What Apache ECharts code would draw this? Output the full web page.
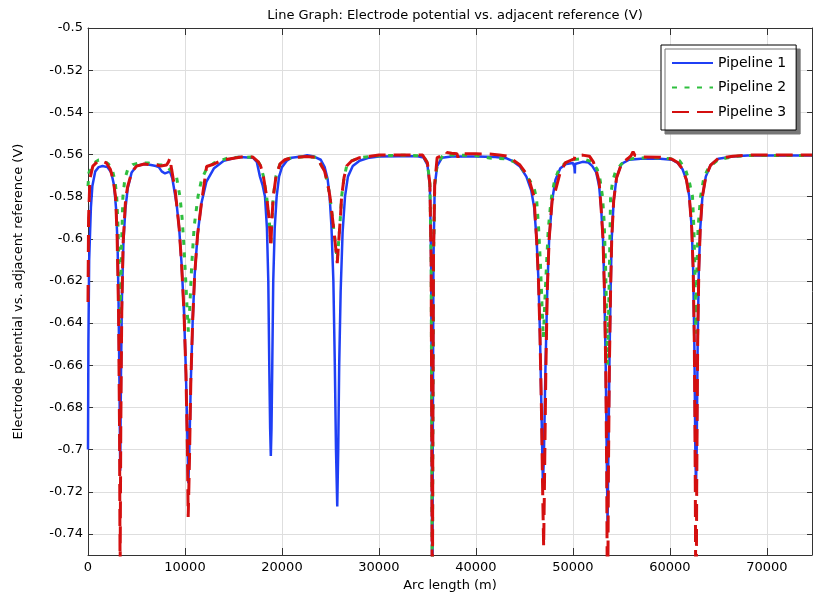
<!DOCTYPE html>
<html>
<head>
<meta charset="utf-8">
<script src="https://cdn.jsdelivr.net/npm/echarts@6/dist/echarts.min.js"></script>
<style>html,body{margin:0;padding:0;background:#fff;}#c{width:813px;height:597px;}</style>
</head>
<body>
<div id="c"></div>
<script>
// ---- data ----
const seriesNames = ['Pipeline 1', 'Pipeline 2', 'Pipeline 3'];
const xTicks = [0, 10000, 20000, 30000, 40000, 50000, 60000, 70000];
const yTicks = [-0.74, -0.72, -0.7, -0.68, -0.66, -0.64, -0.62, -0.6, -0.58, -0.56, -0.54, -0.52, -0.5];

const p1x = [0,40,120,300,450,750,1100,1500,2000,2400,2700,2900,3050,3150,3250,3320,3400,3500,3650,3850,4100,4500,5000,5800,6500,7000,7300,7600,7940,8200,8450,8700,8900,9150,9400,9650,9900,10100,10250,10350,10450,10600,10800,11000,11300,11700,12200,13000,14000,15500,17000,17400,17730,18000,18250,18450,18590,18690,18780,18850,18920,19000,19100,19250,19450,19700,20000,20500,21000,22000,22600,23300,24000,24400,24700,24900,25100,25300,25450,25570,25700,25800,25900,26050,26250,26500,26800,27300,28000,29000,30000,32000,34000,34600,35000,35250,35380,35450,35500,35550,35620,35750,36000,36500,37500,40000,42000,43160,43800,44540,45200,45700,46000,46250,46450,46600,46750,46900,47000,47150,47350,47550,47850,48200,48700,49300,50000,50150,50200,50220,51000,51600,52000,52400,52700,52900,53100,53250,53380,53480,53570,53660,53760,53880,54000,54200,54500,55000,55800,57000,59000,60200,60800,61300,61700,62000,62250,62400,62520,62620,62690,62760,62860,62980,63130,63350,63700,64200,65000,66500,68000,74650];
const p1y = [-0.700,-0.650,-0.610,-0.585,-0.575,-0.568,-0.566,-0.5655,-0.566,-0.5685,-0.575,-0.586,-0.603,-0.630,-0.672,-0.710,-0.665,-0.628,-0.602,-0.586,-0.576,-0.5685,-0.5655,-0.5645,-0.565,-0.5655,-0.566,-0.568,-0.569,-0.5685,-0.568,-0.5715,-0.577,-0.584,-0.595,-0.612,-0.635,-0.664,-0.695,-0.716,-0.700,-0.668,-0.638,-0.617,-0.598,-0.583,-0.573,-0.5665,-0.563,-0.5612,-0.5615,-0.5635,-0.5705,-0.5745,-0.580,-0.595,-0.620,-0.660,-0.690,-0.703,-0.690,-0.660,-0.620,-0.595,-0.580,-0.5705,-0.566,-0.563,-0.5615,-0.561,-0.5603,-0.561,-0.5625,-0.566,-0.5715,-0.579,-0.594,-0.620,-0.660,-0.700,-0.727,-0.700,-0.660,-0.625,-0.597,-0.580,-0.5705,-0.5655,-0.563,-0.5615,-0.561,-0.5608,-0.5608,-0.5615,-0.565,-0.575,-0.610,-0.700,-0.800,-0.700,-0.610,-0.575,-0.5655,-0.5615,-0.561,-0.561,-0.5612,-0.5618,-0.5632,-0.5657,-0.5705,-0.577,-0.585,-0.600,-0.620,-0.645,-0.680,-0.716,-0.705,-0.665,-0.625,-0.600,-0.582,-0.572,-0.5665,-0.5645,-0.564,-0.566,-0.569,-0.5645,-0.5635,-0.5638,-0.5655,-0.5685,-0.575,-0.585,-0.600,-0.625,-0.660,-0.700,-0.735,-0.700,-0.660,-0.625,-0.600,-0.582,-0.571,-0.5645,-0.5625,-0.562,-0.562,-0.5625,-0.564,-0.567,-0.572,-0.580,-0.595,-0.615,-0.650,-0.700,-0.718,-0.700,-0.650,-0.615,-0.595,-0.580,-0.5705,-0.565,-0.562,-0.561,-0.5605,-0.5605];

const p2x = [0,100,400,800,1100,1600,2100,2500,2800,2960,3100,3220,3300,3380,3480,3600,3800,4100,4600,5300,6200,7000,7600,8200,8600,9140,9480,9700,9900,10100,10250,10350,10500,10700,10950,11340,11700,12200,13000,14500,17000,17560,17800,18070,18420,18700,18850,18950,19100,19400,19800,20300,21000,22500,23500,23920,24400,24700,24950,25150,25400,25700,25900,26050,26150,26400,26670,27200,28000,30000,33000,34600,35000,35250,35380,35450,35500,35550,35620,35750,36000,36600,37500,40000,41400,43000,44000,44800,45400,45800,46050,46250,46450,46650,46800,46950,47100,47280,47450,47650,47800,48100,48600,49300,50000,51000,52000,52500,52800,53050,53220,53360,53470,53570,53680,53770,53880,54100,54400,55000,56000,58000,60200,61000,61600,62000,62330,62470,62580,62680,62780,62900,63160,63500,64000,65000,66500,68000,74650];
const p2y = [-0.575,-0.5685,-0.5665,-0.5635,-0.5626,-0.5628,-0.5645,-0.567,-0.573,-0.580,-0.595,-0.618,-0.640,-0.622,-0.600,-0.580,-0.5715,-0.567,-0.5648,-0.564,-0.564,-0.5648,-0.565,-0.566,-0.568,-0.571,-0.580,-0.590,-0.604,-0.622,-0.636,-0.644,-0.632,-0.612,-0.594,-0.580,-0.572,-0.567,-0.564,-0.5615,-0.5612,-0.5635,-0.5655,-0.570,-0.580,-0.592,-0.603,-0.592,-0.580,-0.570,-0.5645,-0.5625,-0.5615,-0.561,-0.5613,-0.564,-0.568,-0.5735,-0.580,-0.588,-0.598,-0.610,-0.598,-0.588,-0.580,-0.571,-0.5655,-0.563,-0.5615,-0.5606,-0.5603,-0.5608,-0.564,-0.574,-0.610,-0.700,-0.790,-0.700,-0.610,-0.574,-0.565,-0.5602,-0.5602,-0.5605,-0.5617,-0.562,-0.5635,-0.567,-0.5715,-0.574,-0.577,-0.581,-0.594,-0.612,-0.630,-0.647,-0.630,-0.612,-0.596,-0.586,-0.580,-0.5725,-0.5665,-0.5638,-0.5625,-0.562,-0.5635,-0.567,-0.572,-0.580,-0.592,-0.612,-0.635,-0.660,-0.635,-0.612,-0.580,-0.5725,-0.568,-0.5645,-0.562,-0.5615,-0.562,-0.563,-0.567,-0.573,-0.580,-0.595,-0.615,-0.645,-0.615,-0.595,-0.580,-0.571,-0.566,-0.5625,-0.561,-0.5605,-0.5605];

const p3x = [0,60,200,500,1000,1400,1900,2300,2600,2840,3000,3150,3250,3310,3380,3480,3620,3880,4100,4500,5000,5800,6500,7000,7500,8100,8300,8450,8550,8630,8800,9000,9150,9400,9650,9900,10100,10250,10330,10400,10460,10600,10800,11000,11300,11700,12230,13000,13920,16000,17000,17560,17800,18070,18420,18700,18850,18950,19100,19400,19800,20300,21000,22500,23500,23920,24400,24700,24950,25150,25400,25700,25900,26050,26150,26400,26670,27200,28000,30000,33000,34500,35000,35250,35380,35450,35500,35550,35620,35750,36000,36500,36980,37000,37500,38050,38150,38250,40000,41400,42400,43160,43800,44540,45400,45980,46250,46450,46600,46750,46880,46980,47050,47200,47350,47550,47850,48150,48660,49200,49900,50150,50200,51000,51700,52100,52400,52700,52900,53100,53250,53380,53480,53570,53660,53760,53880,54000,54200,54500,55000,55700,56000,56200,56400,57000,59000,60200,60800,61300,61700,62000,62250,62400,62520,62620,62690,62760,62860,62980,63130,63350,63700,64200,65000,66500,68000,74650];
const p3y = [-0.630,-0.590,-0.5715,-0.5655,-0.5633,-0.563,-0.564,-0.567,-0.572,-0.580,-0.598,-0.635,-0.690,-0.760,-0.690,-0.635,-0.602,-0.581,-0.575,-0.5685,-0.5655,-0.5645,-0.565,-0.5648,-0.5655,-0.565,-0.5635,-0.5617,-0.565,-0.5673,-0.572,-0.5775,-0.584,-0.595,-0.612,-0.635,-0.664,-0.700,-0.732,-0.718,-0.705,-0.668,-0.638,-0.617,-0.598,-0.583,-0.5657,-0.5645,-0.5626,-0.561,-0.5612,-0.5635,-0.5655,-0.570,-0.580,-0.592,-0.604,-0.592,-0.580,-0.570,-0.5645,-0.5625,-0.5615,-0.561,-0.5613,-0.564,-0.568,-0.5735,-0.580,-0.588,-0.598,-0.6115,-0.598,-0.588,-0.580,-0.571,-0.5655,-0.563,-0.5615,-0.5603,-0.5602,-0.5603,-0.564,-0.574,-0.610,-0.700,-0.800,-0.700,-0.610,-0.574,-0.5615,-0.5605,-0.5603,-0.5591,-0.5594,-0.5597,-0.5615,-0.5597,-0.5597,-0.5598,-0.5602,-0.5607,-0.5625,-0.565,-0.5705,-0.580,-0.600,-0.620,-0.645,-0.680,-0.720,-0.746,-0.722,-0.665,-0.625,-0.600,-0.582,-0.578,-0.569,-0.564,-0.5625,-0.5622,-0.5605,-0.5603,-0.5608,-0.5635,-0.5675,-0.573,-0.585,-0.600,-0.625,-0.660,-0.710,-0.790,-0.710,-0.660,-0.625,-0.600,-0.582,-0.571,-0.5645,-0.5618,-0.5605,-0.5587,-0.5605,-0.5612,-0.5613,-0.5622,-0.5638,-0.567,-0.572,-0.580,-0.595,-0.615,-0.650,-0.720,-0.800,-0.720,-0.650,-0.615,-0.595,-0.580,-0.5705,-0.565,-0.5618,-0.5608,-0.5603,-0.5602];

// ---- chart ----
const FONT = 'DejaVu Sans';
const zip = (xs, ys) => xs.map((x, i) => [x, ys[i]]);
const chart = echarts.init(document.getElementById('c'), null, {renderer: 'canvas'});
const X_MIN = 0, X_MAX = 74650, Y_MIN = -0.75, Y_MAX = -0.5;
const axisLineStyle = {color: '#333', width: 1};

chart.setOption({
  animation: false,
  backgroundColor: '#fff',
  title: {
    text: 'Line Graph: Electrode potential vs. adjacent reference (V)',
    left: 450, top: 4, textAlign: 'center',
    textStyle: {fontFamily: FONT, fontSize: 13, fontWeight: 'normal', color: '#000'}
  },
  legend: {
    orient: 'vertical', left: 661, top: 45,
    padding: [11, 10, 11, 10], itemGap: 10.5,
    itemWidth: 41, itemHeight: 14,
    backgroundColor: '#fff', borderColor: '#000', borderWidth: 1,
    shadowColor: '#777', shadowOffsetX: 4, shadowOffsetY: 4, shadowBlur: 0,
    itemStyle: {opacity: 0, color: 'transparent', borderWidth: 0},
    textStyle: {fontFamily: FONT, fontSize: 14, color: '#000'},
    data: seriesNames
  },
  grid: {left: 88, right: 1, top: 28, bottom: 42},
  xAxis: [{
    type: 'value', min: X_MIN, max: X_MAX, position: 'bottom',
    name: 'Arc length (m)', nameLocation: 'middle', nameGap: 22,
    nameTextStyle: {fontFamily: FONT, fontSize: 13, color: '#000'},
    axisLine: {show: true, onZero: false, lineStyle: axisLineStyle},
    axisTick: {show: true, inside: true, length: 7, customValues: xTicks, lineStyle: axisLineStyle},
    axisLabel: {show: true, customValues: xTicks, margin: 6, fontFamily: FONT, fontSize: 13, color: '#000', formatter: v => String(v)},
    splitLine: {show: true, lineStyle: {color: '#dedede', width: 1}}
  }, {
    type: 'value', min: X_MIN, max: X_MAX, position: 'top',
    axisLine: {show: true, onZero: false, lineStyle: axisLineStyle},
    axisTick: {show: true, inside: true, length: 7, customValues: xTicks, lineStyle: axisLineStyle},
    axisLabel: {show: false},
    splitLine: {show: false}
  }],
  yAxis: [{
    type: 'value', min: Y_MIN, max: Y_MAX, position: 'left',
    name: 'Electrode potential vs. adjacent reference (V)', nameLocation: 'middle', nameGap: 63,
    nameTextStyle: {fontFamily: FONT, fontSize: 13, color: '#000'},
    axisLine: {show: true, onZero: false, lineStyle: axisLineStyle},
    axisTick: {show: true, inside: true, length: 5, customValues: yTicks, lineStyle: axisLineStyle},
    axisLabel: {show: true, customValues: yTicks, margin: 5, fontFamily: FONT, fontSize: 13, color: '#000',
      formatter: v => String(+Number(v).toFixed(2))},
    splitLine: {show: true, lineStyle: {color: '#dedede', width: 1}}
  }, {
    type: 'value', min: Y_MIN, max: Y_MAX, position: 'right',
    axisLine: {show: true, onZero: false, lineStyle: axisLineStyle},
    axisTick: {show: true, inside: true, length: 5, customValues: yTicks, lineStyle: axisLineStyle},
    axisLabel: {show: false},
    splitLine: {show: false}
  }],
  series: [{
    name: seriesNames[0], type: 'line', xAxisIndex: 0, yAxisIndex: 0,
    symbol: 'none', clip: true,
    lineStyle: {color: '#1f3ff5', width: 2.5, type: 'solid'},
    itemStyle: {color: '#1f3ff5'},
    data: zip(p1x, p1y)
  }, {
    name: seriesNames[1], type: 'line', xAxisIndex: 0, yAxisIndex: 0,
    symbol: 'none', clip: true,
    lineStyle: {color: '#2fbf3f', width: 3, type: [5, 7.5]},
    itemStyle: {color: '#2fbf3f'},
    data: zip(p2x, p2y)
  }, {
    name: seriesNames[2], type: 'line', xAxisIndex: 0, yAxisIndex: 0,
    symbol: 'none', clip: true,
    lineStyle: {color: '#d40f0f', width: 3, type: [17, 8]},
    itemStyle: {color: '#d40f0f'},
    data: zip(p3x, p3y)
  }]
});
</script>
</body>
</html>
